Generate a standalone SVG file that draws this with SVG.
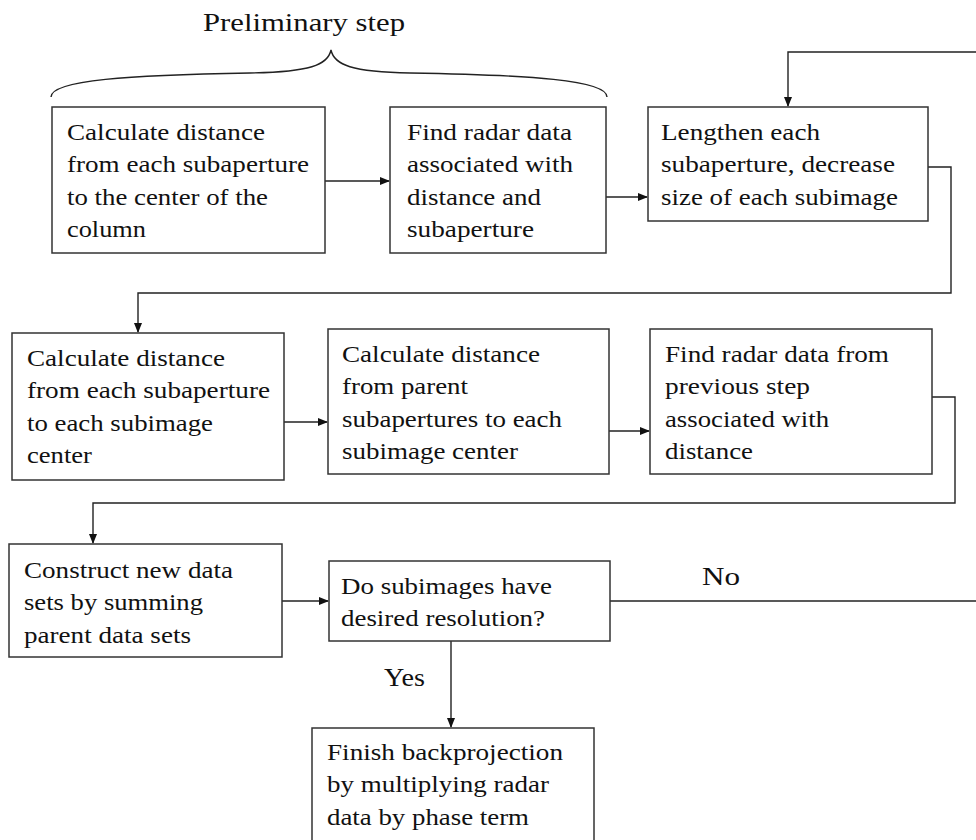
<svg xmlns="http://www.w3.org/2000/svg" width="976" height="840" viewBox="0 0 976 840">
<style>
.box{fill:#fff;stroke:#333;stroke-width:1.5}
.t{font-family:"Liberation Serif","Times New Roman",serif;font-size:23px;fill:#111}
.big{font-size:26px}
.c{fill:none;stroke:#222;stroke-width:1.4}
</style>
<defs>
<marker id="ah" markerWidth="10" markerHeight="10" refX="9" refY="4" orient="auto" markerUnits="userSpaceOnUse">
<path d="M0,0 L10,4 L0,8 Z" fill="#111"/>
</marker>
</defs>
<rect width="976" height="840" fill="#fff"/>
<g id="brace">
<text class="t big" x="203" y="31" textLength="202" lengthAdjust="spacingAndGlyphs">Preliminary  step</text>
<path class="c" d="M51,97 C51,80 130,75 250,73 C310,72 328,65 331,50 C334,65 352,72 410,73 C530,75 607,80 607,97"/>
</g>
<g id="connectors">
<path class="c" d="M325,181 H389" marker-end="url(#ah)"/>
<path class="c" d="M606,197 H647" marker-end="url(#ah)"/>
<path class="c" d="M928,167 H951 V293 H138 V332" marker-end="url(#ah)"/>
<path class="c" d="M976,52 H788 V106" marker-end="url(#ah)"/>
<path class="c" d="M284,422 H327" marker-end="url(#ah)"/>
<path class="c" d="M609,431 H649" marker-end="url(#ah)"/>
<path class="c" d="M932,397 H955 V503 H93 V543" marker-end="url(#ah)"/>
<path class="c" d="M282,601 H328" marker-end="url(#ah)"/>
<path class="c" d="M610,601 H976"/>
<path class="c" d="M451,641 V727" marker-end="url(#ah)"/>
<text class="t big" x="702" y="585" textLength="38" lengthAdjust="spacingAndGlyphs">No</text>
<text class="t big" x="384" y="686" textLength="41" lengthAdjust="spacingAndGlyphs">Yes</text>
</g>
<g id="n1">
<rect class="box" x="52" y="107" width="273" height="146"/>
<text class="t" x="67" y="140" textLength="198" lengthAdjust="spacingAndGlyphs">Calculate  distance</text>
<text class="t" x="67" y="172" textLength="242" lengthAdjust="spacingAndGlyphs">from each subaperture</text>
<text class="t" x="67" y="205" textLength="201" lengthAdjust="spacingAndGlyphs">to the  center of the</text>
<text class="t" x="67" y="237" textLength="79" lengthAdjust="spacingAndGlyphs">column</text>
</g>
<g id="n2">
<rect class="box" x="390" y="107" width="216" height="146"/>
<text class="t" x="407" y="140" textLength="165" lengthAdjust="spacingAndGlyphs">Find radar data</text>
<text class="t" x="407" y="172" textLength="166" lengthAdjust="spacingAndGlyphs">associated with</text>
<text class="t" x="407" y="205" textLength="134" lengthAdjust="spacingAndGlyphs">distance and</text>
<text class="t" x="407" y="237" textLength="127" lengthAdjust="spacingAndGlyphs">subaperture</text>
</g>
<g id="n3">
<rect class="box" x="648" y="107" width="280" height="114"/>
<text class="t" x="661" y="140" textLength="159" lengthAdjust="spacingAndGlyphs">Lengthen  each</text>
<text class="t" x="661" y="172" textLength="234" lengthAdjust="spacingAndGlyphs">subaperture, decrease</text>
<text class="t" x="661" y="205" textLength="237" lengthAdjust="spacingAndGlyphs">size of each subimage</text>
</g>
<g id="n4">
<rect class="box" x="12" y="333" width="272" height="147"/>
<text class="t" x="27" y="366" textLength="198" lengthAdjust="spacingAndGlyphs">Calculate  distance</text>
<text class="t" x="27" y="398" textLength="243" lengthAdjust="spacingAndGlyphs">from each subaperture</text>
<text class="t" x="27" y="431" textLength="186" lengthAdjust="spacingAndGlyphs">to each subimage</text>
<text class="t" x="27" y="463" textLength="65" lengthAdjust="spacingAndGlyphs">center</text>
</g>
<g id="n5">
<rect class="box" x="328" y="329" width="281" height="145"/>
<text class="t" x="342" y="362" textLength="198" lengthAdjust="spacingAndGlyphs">Calculate  distance</text>
<text class="t" x="342" y="394" textLength="126" lengthAdjust="spacingAndGlyphs">from parent</text>
<text class="t" x="342" y="427" textLength="220" lengthAdjust="spacingAndGlyphs">subapertures to each</text>
<text class="t" x="342" y="459" textLength="176" lengthAdjust="spacingAndGlyphs">subimage center</text>
</g>
<g id="n6">
<rect class="box" x="650" y="329" width="282" height="145"/>
<text class="t" x="665" y="362" textLength="224" lengthAdjust="spacingAndGlyphs">Find radar data from</text>
<text class="t" x="665" y="394" textLength="145" lengthAdjust="spacingAndGlyphs">previous step</text>
<text class="t" x="665" y="427" textLength="164" lengthAdjust="spacingAndGlyphs">associated with</text>
<text class="t" x="665" y="459" textLength="88" lengthAdjust="spacingAndGlyphs">distance</text>
</g>
<g id="n7">
<rect class="box" x="9" y="544" width="273" height="113"/>
<text class="t" x="24" y="578" textLength="209" lengthAdjust="spacingAndGlyphs">Construct new  data</text>
<text class="t" x="24" y="610" textLength="179" lengthAdjust="spacingAndGlyphs">sets by summing</text>
<text class="t" x="24" y="643" textLength="167" lengthAdjust="spacingAndGlyphs">parent data sets</text>
</g>
<g id="n8">
<rect class="box" x="329" y="561" width="281" height="80"/>
<text class="t" x="341" y="594" textLength="211" lengthAdjust="spacingAndGlyphs">Do subimages  have</text>
<text class="t" x="341" y="626" textLength="204" lengthAdjust="spacingAndGlyphs">desired resolution?</text>
</g>
<g id="n9">
<rect class="box" x="312" y="728" width="282" height="120"/>
<text class="t" x="327" y="760" textLength="236" lengthAdjust="spacingAndGlyphs">Finish  backprojection</text>
<text class="t" x="327" y="792" textLength="222" lengthAdjust="spacingAndGlyphs">by multiplying  radar</text>
<text class="t" x="327" y="825" textLength="202" lengthAdjust="spacingAndGlyphs">data by phase term</text>
</g>
</svg>
